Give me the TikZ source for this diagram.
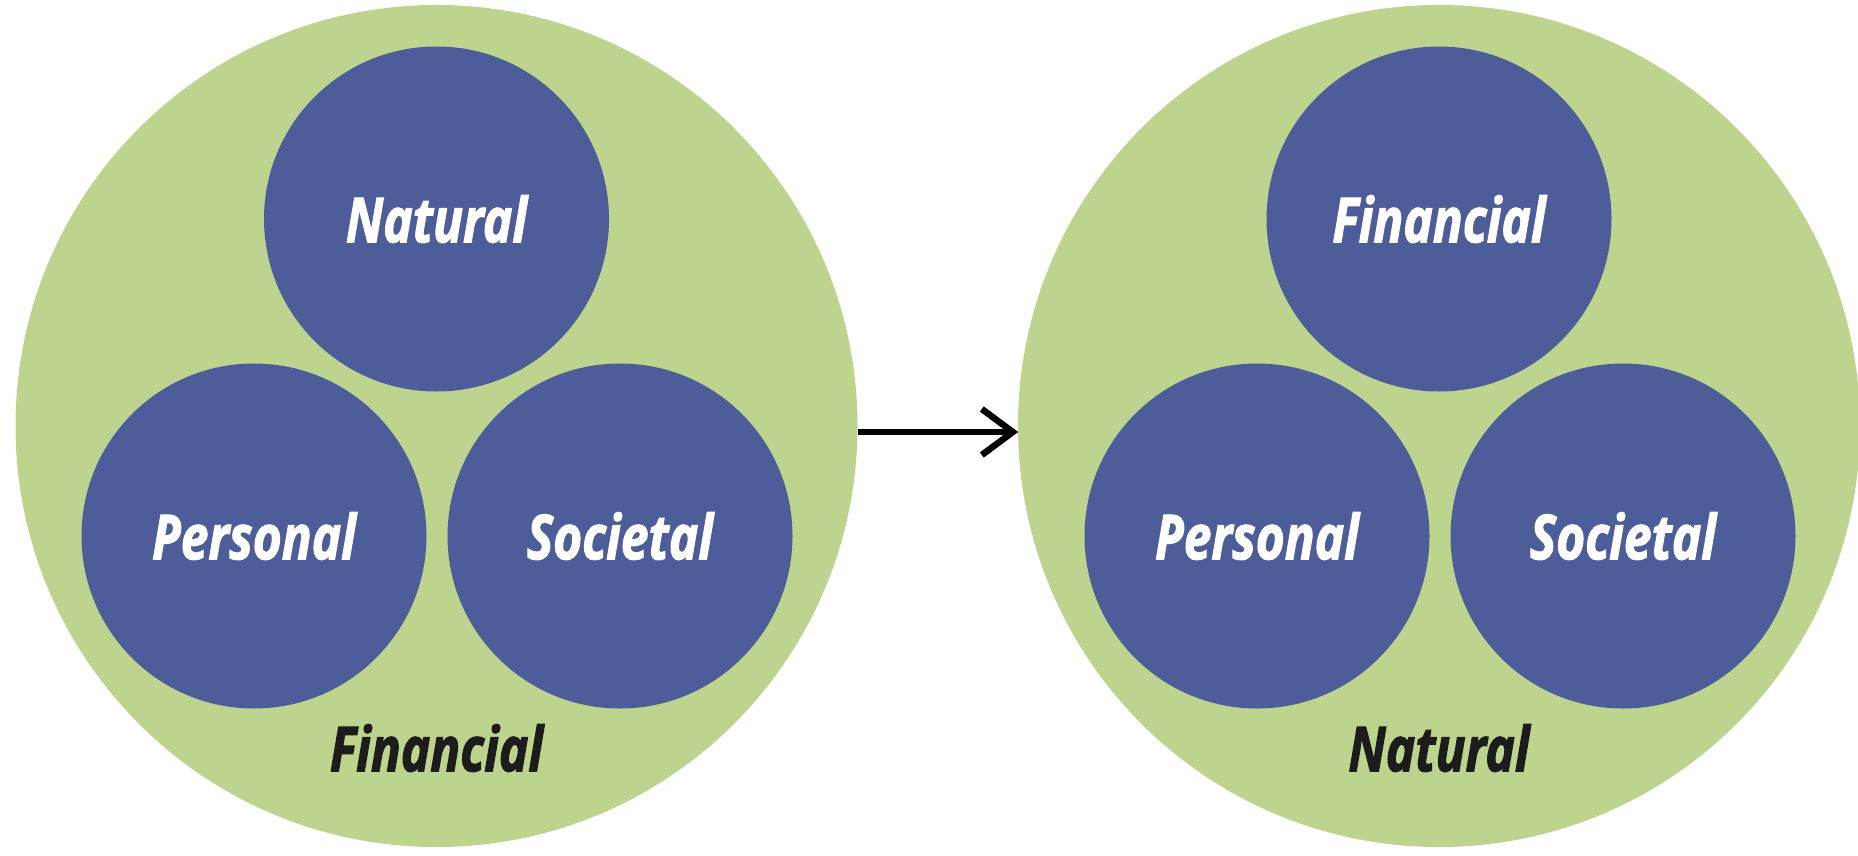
\documentclass[tikz,border=0pt]{standalone}
\usepackage{fontspec}
\usepackage{graphicx}
\newfontfamily\labfont{Open Sans}[FakeBold=2]
\newcommand{\lab}[1]{\scalebox{0.8}[1]{#1}}
\definecolor{outergreen}{HTML}{BDD48E}
\definecolor{innerblue}{HTML}{4C5D99}
\definecolor{darktext}{HTML}{1C1C1C}
\begin{document}
\begin{tikzpicture}[x=1pt,y=-1pt,
  outercirc/.style={circle, fill=outergreen, minimum size=842pt, inner sep=0pt},
  innercirc/.style={circle, fill=innerblue, minimum size=345pt, inner sep=0pt,
    text=white, font=\labfont\bfseries\itshape\fontsize{62}{70}\selectfont},
  outerlabel/.style={text=darktext, inner sep=0pt, font=\labfont\bfseries\itshape\fontsize{62}{70}\selectfont},
  flowline/.style={line width=6.5pt, draw=black},
  chevron/.style={line width=6.5pt, draw=black, line join=miter}
]
\useasboundingbox (0,0) rectangle (1858,855);
% left group
\node[outercirc] (L) at (436.5,426) {};
\node[innercirc] (Lnat) at (436.5,219) {\lab{Natural}};
\node[innercirc] (Lper) at (254,536) {\lab{Personal}};
\node[innercirc] (Lsoc) at (620,536) {\lab{Societal}};
\node[outerlabel] (Lfin) at (436.5,748) {\lab{Financial}};
% right group
\node[outercirc] (R) at (1439,426) {};
\node[innercirc] (Rfin) at (1439,219) {\lab{Financial}};
\node[innercirc] (Rper) at (1257,536) {\lab{Personal}};
\node[innercirc] (Rsoc) at (1623,536) {\lab{Societal}};
\node[outerlabel] (Rnat) at (1439,748) {\lab{Natural}};
% arrow
\coordinate (tip) at ([yshift=-6pt, xshift=-5pt]R.west);
\draw[flowline] ([yshift=-6pt]L.east) -- (tip);
\draw[chevron] ([xshift=-31pt,yshift=23pt]tip) -- (tip) -- ([xshift=-31pt,yshift=-23pt]tip);
\end{tikzpicture}
\end{document}
